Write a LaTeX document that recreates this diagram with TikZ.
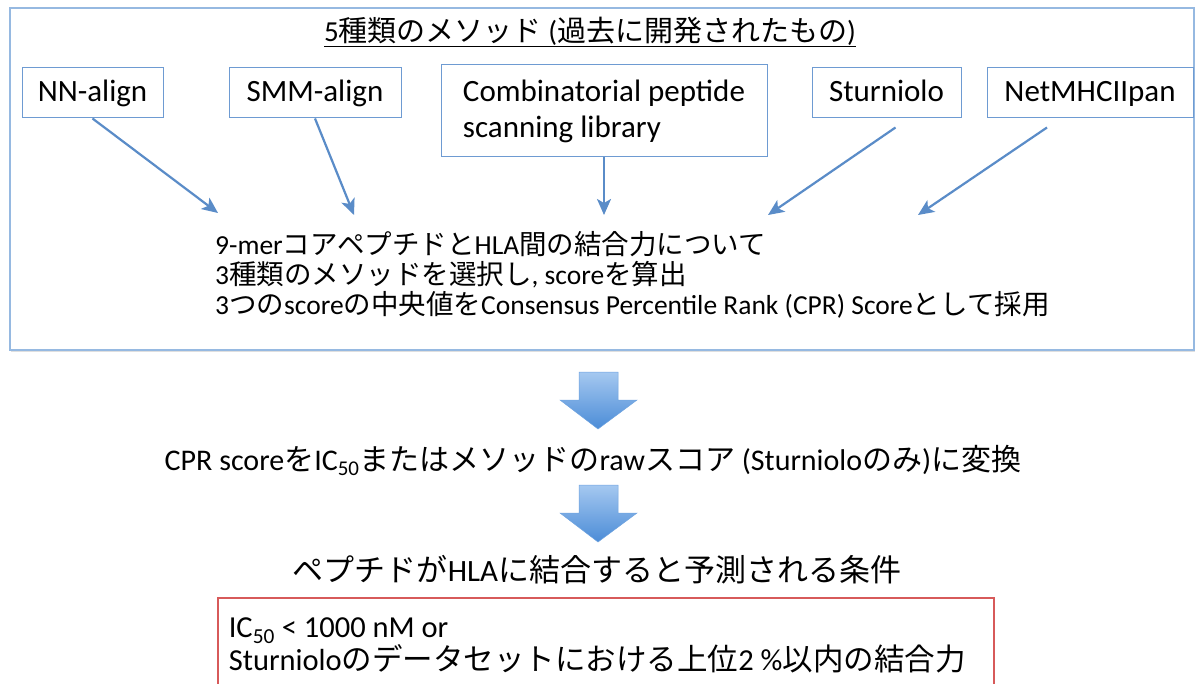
\documentclass[tikz,border=0pt]{standalone}
\usepackage{fontspec}
\setmainfont{Carlito}
\newfontfamily\jp{Noto Sans CJK JP}
\usetikzlibrary{arrows.meta,shadows}
\definecolor{boxblue}{RGB}{110,155,210}
\definecolor{frameblue}{RGB}{150,185,225}
\definecolor{linkblue}{RGB}{90,140,200}
\definecolor{condred}{RGB}{215,90,90}
\definecolor{arrowtop}{RGB}{165,200,240}
\definecolor{arrowbot}{RGB}{75,140,215}
\newcommand{\ja}[1]{{\jp #1}}
\begin{document}
\begin{tikzpicture}[x=1pt, y=-1pt,
    every node/.append style={execute at begin node={\spaceskip=0pt\xspaceskip=0pt}},
    method/.style={draw=boxblue, line width=1pt, inner sep=0pt, align=left, font=\fontsize{31}{36}\selectfont},
    link/.style={-{Stealth[length=16pt,width=14pt,inset=4pt]}, draw=linkblue, line width=2.2pt},
    txt/.style={inner sep=0pt, font=\fontsize{29}{33}\selectfont}]
    \useasboundingbox (0,0) rectangle (1196,684);
    % conditions box
    \node[draw=condred, line width=1.6pt, anchor=north west, text width=754pt, minimum height=96pt,
          inner xsep=11pt, align=left, font=\fontsize{30.5}{33}\selectfont] (cond) at (217,597)
        {IC\textsubscript{50} < 1000 nM or\\
         Sturniolo\ja{のデータセットにおける上位}2 \%\ja{以内の結合力}};
    % outer frame
    \path[draw=frameblue, line width=1.5pt, fill=white,
          drop shadow={opacity=0.25, shadow xshift=1pt, shadow yshift=-2pt}] (10,8) rectangle (1194,350);
    \node[txt] (title) at (590,32) {\underline{5\ja{種類のメソッド} (\ja{過去に開発されたもの})}};
    \node[method, minimum width=141pt, minimum height=50pt, text depth=4pt] (nn)   at (92.5,93) {NN-align};
    \node[method, minimum width=172pt, minimum height=50pt, text depth=4pt] (smm)  at (315,93)  {SMM-align};
    \node[method, minimum width=326pt, minimum height=92pt] (comb) at (604,111) {Combinatorial peptide\\scanning library};
    \node[method, minimum width=149pt, minimum height=50pt, text depth=4pt] (stu)  at (886.5,93) {Sturniolo};
    \node[method, minimum width=206pt, minimum height=50pt, text depth=4pt] (net)  at (1090,93) {NetMHCIIpan};
    \coordinate (in1) at (218,213);
    \coordinate (in2) at (354,215);
    \coordinate (in3) at (604,215);
    \coordinate (in4) at (768,215);
    \coordinate (in5) at (918,215);
    \draw[link] (nn.south) -- (in1);
    \draw[link] (smm.south) -- (in2);
    \draw[link] (comb.south) -- (in3);
    \draw[link] ([xshift=9pt,yshift=-9pt]stu.south) -- (in4);
    \draw[link] ([xshift=-43pt,yshift=-9pt]net.south) -- (in5);
    \node[txt, anchor=west, align=left, font=\fontsize{27.5}{30}\selectfont] (core) at (215,275)
        {9-mer\ja{コアペプチドと}HLA\ja{間の結合力について}\\
         3\ja{種類のメソッドを選択し}, score\ja{を算出}\\
         3\ja{つの}score\ja{の中央値を}Consensus Percentile Rank (CPR) Score\ja{として採用}};
    \node[txt, font=\fontsize{30}{34}\selectfont] (conv) at (593,460)
        {CPR score\ja{を}IC\textsubscript{50}\ja{またはメソッドの}raw\ja{スコア} (Sturniolo\ja{のみ})\ja{に変換}};
    \node[txt, font=\fontsize{31}{35}\selectfont] (pred) at (597,570) {\ja{ペプチドが}HLA\ja{に結合すると予測される条件}};
    % block arrows
    \foreach \y in {372,485}
        \shade[top color=arrowtop, bottom color=arrowbot, draw=arrowbot!80, line width=0.5pt]
            (579,\y) -- (618,\y) -- (618,\y+28) -- (637,\y+28) -- (598,\y+57)
            -- (560,\y+28) -- (579,\y+28) -- cycle;
\end{tikzpicture}
\end{document}
